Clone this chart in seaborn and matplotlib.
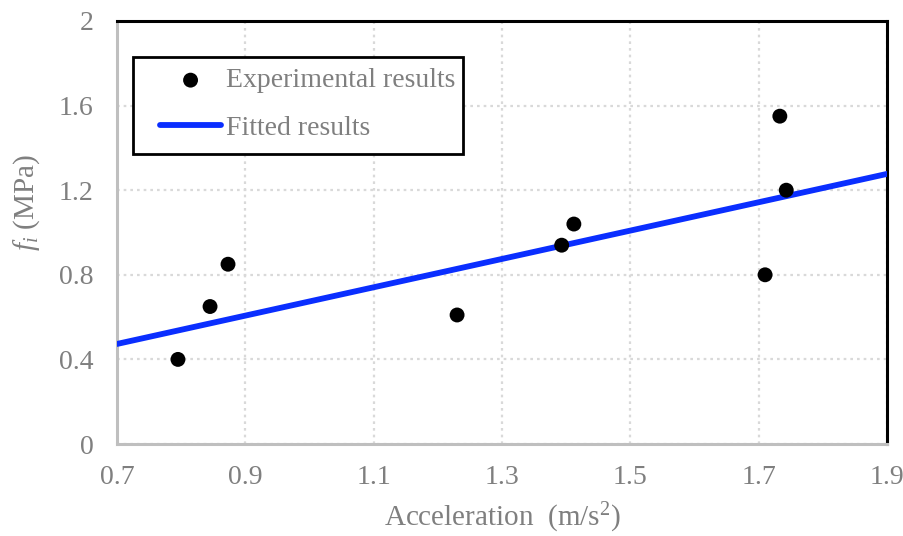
import matplotlib
matplotlib.use("Agg")
import matplotlib.pyplot as plt
from matplotlib.patches import Rectangle
import seaborn as sns
import pandas as pd

# Measured interfacial strength against acceleration
accel = [0.795, 0.845, 0.873, 1.230, 1.393, 1.412, 1.710, 1.733, 1.743]
strength = [0.40, 0.65, 0.85, 0.61, 0.94, 1.04, 0.80, 1.55, 1.20]

# Linear fit evaluated at the ends of the axis range
fit_x = [0.7, 1.9]
fit_y = [0.473, 1.277]

x_ticks = [0.7, 0.9, 1.1, 1.3, 1.5, 1.7, 1.9]
y_ticks = [0, 0.4, 0.8, 1.2, 1.6, 2.0]
y_tick_labels = ["0", "0.4", "0.8", "1.2", "1.6", "2"]

sns.set_theme(style="white")
plt.rcParams["font.family"] = ["Liberation Serif", "DejaVu Serif"]
plt.rcParams["mathtext.fontset"] = "custom"
plt.rcParams["mathtext.rm"] = "Liberation Serif"
plt.rcParams["mathtext.it"] = "Liberation Serif:italic"

GRAY = "#7f7f7f"
BLUE = "#0a2eff"

exp_df = pd.DataFrame({"a": accel, "f": strength})
fit_df = pd.DataFrame({"a": fit_x, "f": fit_y})

W, H = 904, 536
L, R, T, B = 117, 887, 21, 444
fig = plt.figure(figsize=(W / 100, H / 100), dpi=100)
ax = fig.add_axes([L / W, 1 - B / H, (R - L) / W, (B - T) / H])


def ax_x(px):
    return (px - L) / (R - L)


def ax_y(py):
    return (B - py) / (B - T)


sns.lineplot(data=fit_df, x="a", y="f", ax=ax, color=BLUE, linewidth=4.2,
             label="Fitted results", zorder=3)
sns.scatterplot(data=exp_df, x="a", y="f", ax=ax, color="black", s=115,
                edgecolor="none", label="Experimental results", zorder=4)

ax.set_xlim(0.7, 1.9)
ax.set_ylim(0, 2)
ax.set_xticks(x_ticks)
ax.set_xticklabels([f"{v:.1f}" for v in x_ticks])
ax.set_yticks(y_ticks)
ax.set_yticklabels(y_tick_labels)
ax.tick_params(axis="both", length=0, labelsize=20, labelcolor=GRAY)
ax.tick_params(axis="x", pad=15)
ax.tick_params(axis="y", pad=17)

ax.grid(True, color="#d9d9d9", linestyle=(0, (1.2, 1.8)), linewidth=1.6)
ax.set_axisbelow(True)

for side in ("left", "bottom"):
    ax.spines[side].set_color("#bfbfbf")
    ax.spines[side].set_linewidth(2.2)
for side in ("top", "right"):
    ax.spines[side].set_color("black")
    ax.spines[side].set_linewidth(2.2)

ax.set_xlabel("Acceleration  (m/s$^2$)", fontsize=21, color=GRAY)
ax.xaxis.set_label_coords(0.5, -0.135)
ax.set_ylabel("$f_i$ (MPa)", fontsize=21, color=GRAY)
ax.yaxis.set_label_coords(-0.097, 0.572)

# Legend entries (frame drawn separately as a box)
handles, labels = ax.get_legend_handles_labels()
order = [labels.index("Experimental results"), labels.index("Fitted results")]
leg = ax.legend([handles[i] for i in order], [labels[i] for i in order],
                loc="upper left", bbox_to_anchor=(ax_x(160), ax_y(68)),
                fontsize=20, frameon=False, borderpad=0,
                handlelength=2.2, handletextpad=0.18, labelspacing=0.8,
                borderaxespad=0)
for t in leg.get_texts():
    t.set_color(GRAY)
leg.set_zorder(6)

ax.add_patch(Rectangle((ax_x(133), ax_y(154)), ax_x(463) - ax_x(133),
                       ax_y(57) - ax_y(154), transform=ax.transAxes,
                       facecolor="white", edgecolor="black", linewidth=2.0,
                       zorder=5))

fig.savefig("out.png", dpi=100, facecolor="white")
